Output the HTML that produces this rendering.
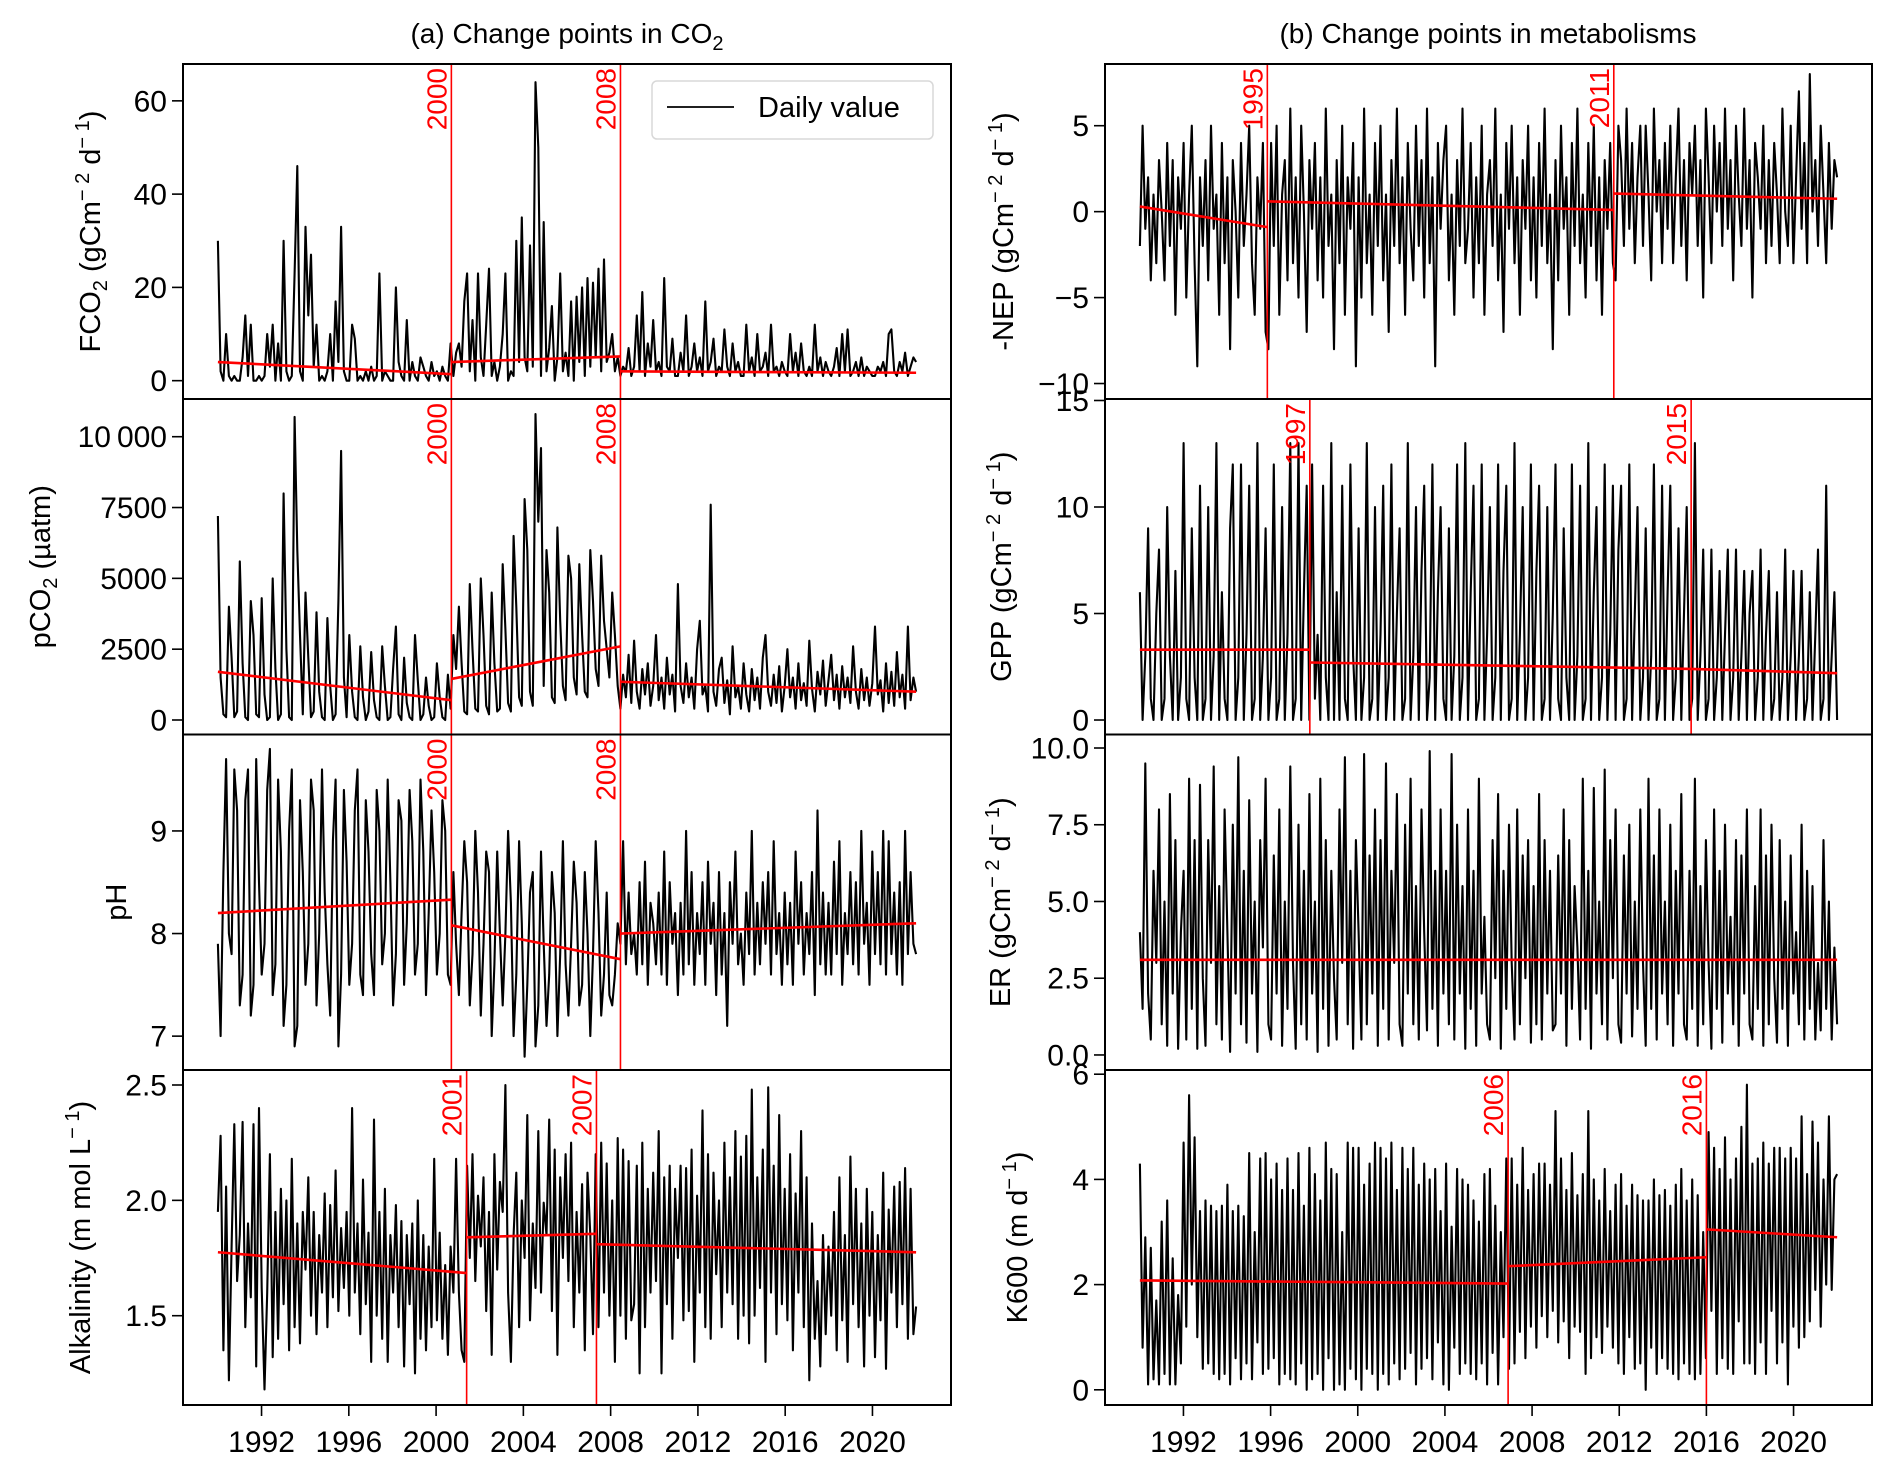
<!DOCTYPE html>
<html><head><meta charset="utf-8"><style>
html,body{margin:0;padding:0;background:#fff;}
svg{display:block;font-family:"Liberation Sans",Arial,sans-serif;}
</style></head><body>
<svg id="fig" width="1892" height="1472" viewBox="0 0 1892 1472">
<text x="567" y="43" font-size="28" text-anchor="middle">(a) Change points in CO<tspan font-size="20" dy="7">2</tspan></text>
<text x="1488" y="43" font-size="28" text-anchor="middle">(b) Change points in metabolisms</text>
</svg>
<script>
const startYear = 1990, endYear = 2022;
const xTicks = [1992,1996,2000,2004,2008,2012,2016,2020];
const xTickLabels = ["1992","1996","2000","2004","2008","2012","2016","2020"];

const fco2 = [30,2,0,10,1,0,1,0, 0,5,14,1,12,0,0,1, 0,1,10,3,12,0,8,0, 30,2,0,1,23,46,2,0, 33,14,27,3,12,0,1,0, 2,10,0,17,4,33,2,0, 0,12,9,0,1,0,2,0, 3,0,1,23,0,2,1,0, 0,20,4,1,0,13,0,4, 1,0,5,3,1,0,4,1, 2,0,3,1,0,8,1,6, 8,3,17,23,2,13,0,23, 5,1,12,24,1,4,0,3, 10,23,0,2,1,30,4,35, 5,2,29,3,64,50,1,34, 2,7,16,0,5,23,2,6, 1,17,0,18,4,20,1,22, 3,21,5,24,2,26,4,6, 10,2,5,1,3,2,7,1, 3,14,2,19,1,8,3,13, 2,4,1,22,3,2,9,1, 1,6,2,14,1,3,8,2, 5,1,17,2,4,9,1,3, 2,11,3,1,8,2,4,1, 1,12,2,5,1,10,2,3, 6,1,12,2,3,1,4,2, 1,10,2,6,1,8,2,1, 3,1,12,2,5,1,4,2, 1,3,7,1,10,2,11,1, 2,4,1,5,1,3,2,1, 1,3,2,4,1,10,11,2, 1,4,2,6,1,3,5,4];
const pco2 = [7200,1500,200,100,4000,2200,100,300, 5600,2000,100,0,4200,3000,200,100, 4300,900,0,100,5000,1800,0,200, 8000,2500,100,0,10700,6000,3000,200, 4500,2200,100,300,3800,1000,100,0, 3600,1200,0,200,4200,9500,1500,100, 3000,1000,100,0,2600,800,0,300, 2400,700,100,0,2600,1200,0,100, 1800,3300,200,0,2200,600,100,0, 3000,1400,0,200,1500,500,0,100, 2000,800,100,0,1600,400,3000,1800, 4000,2000,300,200,4800,2500,400,300, 5000,3000,500,200,4500,2000,300,400, 5500,3200,600,300,6500,4000,800,500, 7800,6000,1000,500,10800,7000,9600,1200, 6000,4500,800,600,6800,3500,1200,700, 5800,5000,1500,900,5500,3000,1000,800, 6000,4200,1800,1200,5800,3500,2500,1500, 4500,3000,1200,400,1600,800,2300,600, 2800,1000,400,1800,900,2000,500,1200, 3000,700,1500,400,2200,900,1600,300, 4800,1200,600,2000,800,1500,400,2500, 3500,900,1200,300,7600,1000,500,1800, 2200,600,1400,200,2600,800,1200,400, 2000,900,300,1800,700,1500,400,2200, 3000,1000,500,1600,600,1900,300,1200, 2500,800,1500,400,2000,700,1300,500, 2800,1100,300,1700,900,2100,500,1400, 2300,700,1600,400,1900,800,1500,600, 2600,1000,400,1800,700,1500,500,1300, 3300,900,1400,300,2000,600,1700,500, 2400,800,1600,400,3300,700,1500,1000];
const ph = [7.9,7.0,8.6,9.7,8.0,7.8,9.6,9.2, 7.3,7.6,9.3,9.6,7.2,7.5,9.7,8.5, 7.6,7.9,9.4,9.8,7.4,7.7,9.5,8.8, 7.1,7.5,9.0,9.6,6.9,7.1,9.3,8.6, 7.5,7.9,9.5,9.2,7.3,8.0,9.6,8.4, 7.7,7.2,8.9,9.5,6.9,7.6,9.4,8.7, 7.5,7.9,9.2,9.6,7.6,7.4,9.3,8.8, 7.8,7.4,9.4,9.0,7.7,8.0,9.5,8.5, 7.3,7.8,9.3,9.1,7.5,8.1,9.4,8.9, 7.6,7.9,9.5,8.8,7.4,8.2,9.2,8.6, 7.6,8.0,9.3,9.0,7.6,7.5,8.6,7.9, 7.4,8.2,8.9,8.5,7.3,7.8,9.0,8.4, 7.2,7.9,8.8,8.6,7.0,7.7,8.8,8.0, 7.3,8.0,9.0,8.3,7.0,7.6,8.9,8.1, 6.8,7.5,8.4,8.6,6.9,7.3,8.8,7.9, 7.1,7.6,8.6,8.2,7.0,7.8,8.9,7.7, 7.2,7.9,8.7,8.3,7.3,7.5,8.6,8.0, 7.0,7.8,8.9,8.2,7.2,7.6,8.4,7.4, 7.3,7.6,8.1,7.9,8.9,7.7,8.4,7.8, 8.0,7.6,8.5,7.7,8.7,7.5,8.3,8.1, 7.7,8.4,7.6,8.8,7.5,8.5,7.9,8.2, 7.4,8.3,7.6,9.0,7.7,8.6,7.5,8.2, 7.8,8.5,7.5,8.7,7.9,8.3,7.4,8.6, 7.6,8.2,7.1,8.5,7.9,8.8,7.7,8.0, 7.5,8.4,7.8,9.0,7.6,8.3,7.7,8.5, 7.9,8.6,7.6,8.9,7.8,8.2,7.5,8.4, 7.7,8.3,7.5,8.8,7.9,8.5,7.6,8.2, 7.8,8.6,7.4,9.2,7.7,8.4,7.6,8.3, 7.6,8.7,7.8,8.9,7.5,8.2,7.8,8.6, 7.7,8.5,7.6,9.0,7.9,8.3,7.5,8.8, 7.8,8.6,7.7,9.0,7.6,8.9,7.8,8.4, 7.6,8.5,7.5,9.0,7.8,8.6,7.9,7.8];
const alk = [1.95,2.28,1.35,2.06,1.22,1.80,2.33,1.65, 1.85,2.34,1.45,1.90,1.58,2.33,1.28,2.40, 1.62,1.18,1.60,2.20,1.32,1.95,1.40,2.05, 1.55,2.00,1.35,2.18,1.45,1.90,1.38,1.95, 1.70,2.10,1.50,1.95,1.42,1.85,1.60,2.03, 1.45,1.98,1.58,2.13,1.52,1.88,1.62,1.95, 1.50,2.40,1.60,1.90,1.42,2.09,1.55,1.86, 1.30,2.35,1.50,1.95,1.40,2.05,1.30,1.85, 1.60,1.98,1.45,1.91,1.28,1.85,1.55,1.90, 1.25,2.00,1.40,1.85,1.35,1.80,1.45,2.18, 1.48,1.86,1.40,1.72,1.33,1.80,1.60,2.18, 1.60,1.35,1.30,2.15,1.75,2.20,1.65,2.02, 1.80,2.10,1.52,1.95,1.33,2.20,1.70,2.08, 1.95,2.50,1.60,1.30,1.85,2.12,1.45,2.00, 1.75,2.37,1.48,1.90,1.62,2.30,1.60,1.99, 1.85,2.35,1.52,2.22,1.33,2.10,1.75,2.20, 1.65,2.25,1.45,1.95,1.60,2.07,1.35,2.12, 1.85,1.42,2.20,1.45,2.25,1.60,2.16,1.50, 2.00,1.30,2.27,1.50,2.22,1.40,2.17,1.48, 1.55,2.15,1.25,2.25,1.45,2.05,1.60,2.12, 1.65,2.30,1.25,2.10,1.55,2.15,1.40,2.05, 1.75,2.15,1.48,2.14,1.52,2.22,1.30,2.02, 1.60,2.39,1.45,2.20,1.40,2.12,1.68,2.00, 1.45,2.25,1.60,2.10,1.55,2.30,1.40,2.19, 1.50,2.28,1.38,2.48,1.50,2.10,1.62,2.22, 1.30,2.49,1.60,2.15,1.42,2.37,1.55,2.05, 1.48,2.20,1.35,2.03,1.60,2.30,1.45,2.10, 1.22,1.90,1.40,1.65,1.28,1.85,1.42,1.80, 1.50,1.95,1.35,2.10,1.48,1.85,1.30,2.19, 1.55,2.05,1.45,1.90,1.28,2.05,1.50,1.95, 1.32,1.85,1.48,2.12,1.27,1.96,1.60,2.06, 1.45,2.08,1.55,2.14,1.40,2.05,1.42,1.54];
const nep = [-2,5,-1,2,-4,1,-3,3, 0,-4,4,-2,3,-6,2,-1, 4,-5,1,5,-3,-9,2,-2, 3,-4,5,-1,1,-6,4,-3, 2,-8,3,0,-5,4,-2,1, 5,-3,-6,2,-1,4,-7,-8, 4,-2,5,-6,1,3,-4,6, -3,2,-5,5,0,-7,3,-1, 4,-4,2,-5,6,-2,1,-8, 3,-3,5,-6,2,-1,4,-9, 2,-5,6,-3,1,-6,4,-2, 5,-4,1,-7,3,-2,6,-3, 2,-6,4,-1,-4,5,-2,3, -5,6,-3,2,-9,4,-1,3, 5,-4,1,-6,3,-2,6,-3, -1,4,-5,2,-3,5,-6,1, 3,-2,6,-4,1,-7,4,-1, 5,-3,2,-6,3,-1,5,-4, 2,-5,4,-2,6,-3,1,-8, 3,-4,5,-1,2,-6,4,-2, 6,-3,1,-5,4,-2,5,-4, 2,-6,3,-1,4,-3,-4,5, 3,-2,6,-1,4,-3,2,5, -2,5,1,-4,6,0,3,-3, 4,-1,5,-3,2,6,-2,3, -4,4,1,5,-2,3,-5,6, 2,-3,5,0,4,-2,6,-1, 3,-4,5,1,-2,6,-1,3, -5,4,2,-1,5,-3,3,-2, 4,1,-3,6,0,-2,5,-3, 2,7,-1,4,-3,8,0,3, -2,5,1,-3,4,-1,3,2];
const gpp = [6,0,3,9,1,0,5,8, 0,1,10,3,0,7,0,2, 13,1,0,9,2,0,11,0, 1,10,0,3,13,0,6,1, 0,9,12,0,2,12,0,4, 11,0,1,13,0,3,9,0, 2,12,0,1,10,0,4,13, 0,1,13,0,6,11,0,12, 1,4,0,11,2,0,13,0, 6,0,11,1,0,12,3,0, 9,0,2,13,0,1,10,0, 4,11,0,2,12,0,5,9, 0,1,13,0,3,10,0,7, 11,0,2,12,0,6,10,1, 0,9,0,3,12,0,2,13, 0,6,11,0,1,12,0,4, 10,0,2,12,0,7,11,0, 1,13,0,4,10,0,2,12, 0,7,11,0,1,10,0,5, 12,1,0,9,2,0,12,0, 3,11,0,1,13,0,6,10, 0,2,12,0,4,11,0,8, 11,0,1,12,0,5,10,0, 2,9,0,3,12,0,1,11, 0,6,11,0,2,9,0,5, 10,0,1,13,0,3,8,0, 1,8,0,2,7,0,4,8, 0,2,8,0,3,7,0,5, 7,0,2,8,0,4,7,0, 1,6,0,2,8,0,3,7, 0,3,7,0,1,6,0,4, 8,0,1,11,0,3,6,0];
const er = [4,1.5,9.5,2,0.5,6,3,8, 1,5,0.3,8.5,2,7,0.2,4, 6,0.5,9,1.5,7,0.2,8.8,2.5, 0.3,7,3,9.4,1,5.5,0.5,8, 4,0.1,7.5,2,9.7,1,6,0.4, 8.3,2,5,0.1,7,3.5,9,1, 0.5,6.5,2,8,0.3,5,1.5,9.4, 3,0.2,7.5,1,6,0.5,8.5,2, 5,0.1,9,1.5,7,0.3,6,2.5, 0.5,8,3,9.7,1,6,0.2,7, 4,0.5,9.8,1,6.5,2,8,0.3, 7,1.5,9.5,0.5,6,3,8.5,1, 0.3,7.5,2,9,1,5.5,0.5,8, 4,0.8,9.9,1.5,6,0.3,8,2, 6,1,9.8,0.5,7.5,2,5.5,0.2, 8,1.5,6,0.3,9,2,4.5,1, 0.5,7,2.5,8.5,0.2,6,1.5,7.5, 3,0.5,8,1,6.5,2.5,7,0.4, 5.5,1,8.5,0.5,7,2,6,0.8, 1,6.5,2,8,0.3,7,1.5,5.5, 3.5,0.5,9,1.5,6,0.2,8.7,2, 5,1,9.3,0.5,7,2.5,8,1, 0.4,6.5,2,7.5,0.6,5,1.5,8, 3,0.3,9,1.5,6.5,0.5,8,2, 5,1,7.5,0.3,6,2,8.5,1, 0.5,6,1.5,9,0.3,5.5,1,7, 3,0.2,8,1.5,6,0.4,7.5,2, 4.5,1,7,0.3,6.5,2,8,1, 0.5,5.5,1.5,8,0.3,6.5,1,7.5, 2.5,0.4,7,1.5,5,0.3,6.5,2, 4,1,7.5,0.5,6,1.5,5.5,0.5, 3,0.8,7,1.5,5,0.5,3.5,1];
const k600 = [4.3,0.8,2.9,0.1,2.7,0.2,1.7,0.1, 3.2,0.3,3.6,0.1,2.5,0.1,1.8,0.5, 4.7,1.2,5.6,2.0,4.8,1.0,3.4,0.4, 3.6,0.5,3.5,0.3,3.4,0.2,3.5,0.3, 3.9,0.1,3.4,0.6,3.5,0.2,3.3,0.5, 4.5,0.2,3.0,0.9,4.4,0.3,4.5,0.4, 4.0,0.6,4.3,0.1,3.8,0.3,4.4,0.2, 3.8,0.1,4.5,0.5,3.5,0.0,4.6,0.2, 4.1,0.3,3.6,0.0,4.7,0.6,4.2,0.0, 4.1,0.1,3.0,0.0,4.7,0.4,4.6,0.2, 4.6,0.0,3.9,0.4,4.3,0.3,4.7,0.0, 4.6,0.3,4.4,0.1,4.7,0.5,3.8,0.2, 4.6,0.4,4.2,0.7,4.6,0.1,3.9,0.4, 4.3,0.6,4.0,0.2,4.2,0.9,3.4,0.1, 4.3,0.0,3.1,0.8,4.2,0.3,4.0,0.5, 3.9,0.3,3.6,0.2,3.2,0.5,4.1,0.1, 4.2,0.7,3.5,0.1,3.0,1.0,4.4,0.4, 4.4,0.5,3.9,1.1,4.6,0.6,3.8,1.2, 4.1,0.8,4.3,1.4,4.3,1.0,3.9,1.5, 5.3,0.9,4.4,1.3,3.8,0.6,4.5,1.2, 3.7,1.1,4.1,0.3,5.3,0.6,4.0,1.0, 3.6,0.7,4.2,1.2,3.4,0.8,3.9,0.5, 4.1,0.3,3.5,1.0,3.9,0.4,3.7,0.5, 3.6,0.0,3.6,0.8,4.0,0.3,3.7,0.6, 3.8,0.4,3.5,0.3,3.9,0.2,4.2,0.5, 3.6,0.3,4.0,0.2,3.7,0.3,3.0,0.6, 4.9,1.5,4.6,0.3,4.2,0.6,4.8,0.4, 4.0,0.3,4.4,1.3,5.0,0.5,5.8,0.5, 4.3,0.3,4.4,0.9,4.7,0.3,4.3,1.5, 4.6,0.5,4.6,0.9,4.4,0.1,4.6,1.2, 4.4,0.8,5.2,1.0,4.1,1.3,5.1,1.9, 4.7,1.2,4.0,2.0,5.2,1.9,4.0,4.1];

const fco2Breaks = [2000.7, 2008.45];
const fco2BreakLabels = ["2000","2008"];
const fco2Trend = [[1990,4.0,2000.7,1.4],[2000.7,4.0,2008.45,5.2],[2008.45,2.0,2022,1.7]];
const pco2Breaks = [2000.7, 2008.45];
const pco2BreakLabels = ["2000","2008"];
const pco2Trend = [[1990,1700,2000.7,700],[2000.7,1450,2008.45,2600],[2008.45,1350,2022,1000]];
const phBreaks = [2000.7, 2008.45];
const phBreakLabels = ["2000","2008"];
const phTrend = [[1990,8.2,2000.7,8.33],[2000.7,8.08,2008.45,7.75],[2008.45,8.0,2022,8.1]];
const alkBreaks = [2001.4, 2007.35];
const alkBreakLabels = ["2001","2007"];
const alkTrend = [[1990,1.775,2001.4,1.685],[2001.4,1.84,2007.35,1.855],[2007.35,1.81,2022,1.775]];
const nepBreaks = [1995.85, 2011.75];
const nepBreakLabels = ["1995","2011"];
const nepTrend = [[1990,0.3,1995.85,-0.9],[1995.85,0.6,2011.75,0.1],[2011.75,1.05,2022,0.75]];
const gppBreaks = [1997.8, 2015.3];
const gppBreakLabels = ["1997","2015"];
const gppTrend = [[1990,3.3,1997.8,3.3],[1997.8,2.7,2015.3,2.4],[2015.3,2.4,2022,2.2]];
const erBreaks = [];
const erBreakLabels = [];
const erTrend = [[1990,3.1,2022,3.1]];
const k600Breaks = [2006.9, 2016.0];
const k600BreakLabels = ["2006","2016"];
const k600Trend = [[1990,2.08,2006.9,2.02],[2006.9,2.35,2016.0,2.52],[2016.0,3.05,2022,2.9]];

const fco2Ticks=[0,20,40,60], fco2TickLabels=["0","20","40","60"];
const pco2Ticks=[0,2500,5000,7500,10000], pco2TickLabels=["0","2500","5000","7500","10\u2009000"];
const phTicks=[7,8,9], phTickLabels=["7","8","9"];
const alkTicks=[1.5,2.0,2.5], alkTickLabels=["1.5","2.0","2.5"];
const nepTicks=[-10,-5,0,5], nepTickLabels=["\u221210","\u22125","0","5"];
const gppTicks=[0,5,10,15], gppTickLabels=["0","5","10","15"];
const erTicks=[0,2.5,5,7.5,10], erTickLabels=["0.0","2.5","5.0","7.5","10.0"];
const k600Ticks=[0,2,4,6], k600TickLabels=["0","2","4","6"];

const NS="http://www.w3.org/2000/svg";
const svg=document.getElementById('fig');
function mk(tag, attrs, parent){const e=document.createElementNS(NS,tag);for(const k in attrs)e.setAttribute(k,attrs[k]);(parent||svg).appendChild(e);return e;}

const rowsY=[64,399,734.5,1070,1405];
const cols=[{x0:183,x1:951},{x0:1105,x1:1872}];
const xMin=1988.4, xMax=2023.6;

const panels=[
 {id:'fco2',col:0,row:0,data:fco2,ylim:[-3.93,67.9],ticks:fco2Ticks,tl:fco2TickLabels,br:fco2Breaks,brl:fco2BreakLabels,tr:fco2Trend,lx:90,label:'<tspan>FCO</tspan><tspan font-size="20" dy="7">2</tspan><tspan dy="-7"> (gCm</tspan><tspan font-size="20" dy="-11">\u2212 2</tspan><tspan dy="11"> d</tspan><tspan font-size="20" dy="-11">\u2212 1</tspan><tspan dy="11">)</tspan>'},
 {id:'pco2',col:0,row:1,data:pco2,ylim:[-512,11331],ticks:pco2Ticks,tl:pco2TickLabels,br:pco2Breaks,brl:pco2BreakLabels,tr:pco2Trend,lx:40,label:'<tspan>pCO</tspan><tspan font-size="20" dy="7">2</tspan><tspan dy="-7"> (\u00b5atm)</tspan>'},
 {id:'ph',col:0,row:2,data:ph,ylim:[6.67,9.94],ticks:phTicks,tl:phTickLabels,br:phBreaks,brl:phBreakLabels,tr:phTrend,lx:116,label:'pH'},
 {id:'alk',col:0,row:3,data:alk,ylim:[1.113,2.565],ticks:alkTicks,tl:alkTickLabels,br:alkBreaks,brl:alkBreakLabels,tr:alkTrend,lx:80,label:'<tspan>Alkalinity (m mol L</tspan><tspan font-size="20" dy="-11">\u2212 1</tspan><tspan dy="11">)</tspan>'},
 {id:'nep',col:1,row:0,data:nep,ylim:[-10.9,8.59],ticks:nepTicks,tl:nepTickLabels,br:nepBreaks,brl:nepBreakLabels,tr:nepTrend,lx:1003,label:'<tspan>-NEP (gCm</tspan><tspan font-size="20" dy="-11">\u2212 2</tspan><tspan dy="11"> d</tspan><tspan font-size="20" dy="-11">\u2212 1</tspan><tspan dy="11">)</tspan>'},
 {id:'gpp',col:1,row:1,data:gpp,ylim:[-0.68,15.07],ticks:gppTicks,tl:gppTickLabels,br:gppBreaks,brl:gppBreakLabels,tr:gppTrend,lx:1001,label:'<tspan>GPP (gCm</tspan><tspan font-size="20" dy="-11">\u2212 2</tspan><tspan dy="11"> d</tspan><tspan font-size="20" dy="-11">\u2212 1</tspan><tspan dy="11">)</tspan>'},
 {id:'er',col:1,row:2,data:er,ylim:[-0.49,10.44],ticks:erTicks,tl:erTickLabels,br:erBreaks,brl:erBreakLabels,tr:erTrend,lx:1000,label:'<tspan>ER (gCm</tspan><tspan font-size="20" dy="-11">\u2212 2</tspan><tspan dy="11"> d</tspan><tspan font-size="20" dy="-11">\u2212 1</tspan><tspan dy="11">)</tspan>'},
 {id:'k600',col:1,row:3,data:k600,ylim:[-0.289,6.08],ticks:k600Ticks,tl:k600TickLabels,br:k600Breaks,brl:k600BreakLabels,tr:k600Trend,lx:1017,label:'<tspan>K600 (m  d</tspan><tspan font-size="20" dy="-11">\u2212 1</tspan><tspan dy="11">)</tspan>'}
];

panels.forEach(p=>{
 const c=cols[p.col], y0=rowsY[p.row], y1=rowsY[p.row+1];
 const xs=v=>c.x0+(v-xMin)/(xMax-xMin)*(c.x1-c.x0);
 const ys=v=>y1-(v-p.ylim[0])/(p.ylim[1]-p.ylim[0])*(y1-y0);
 const g=mk('g',{});
 
 
 const cp=mk('clipPath',{id:'clip-'+p.id},g);
 mk('rect',{x:c.x0,y:y0,width:c.x1-c.x0,height:y1-y0},cp);
 const n=p.data.length;
 let d='';
 p.data.forEach((v,i)=>{const yr=startYear+i*(endYear-startYear)/(n-1);d+=(i?'L':'M')+xs(yr).toFixed(1)+' '+ys(v).toFixed(1);});
 const line=mk('path',{d:d,fill:'none',stroke:'#000','stroke-width':2.1,'stroke-linejoin':'round','clip-path':'url(#clip-'+p.id+')'},g);
 
 
 p.tr.forEach((s,i)=>{
  const l=mk('line',{x1:xs(s[0]),y1:ys(s[1]),x2:xs(s[2]),y2:ys(s[3]),stroke:'#ff0000','stroke-width':2.6},g);
  
  
 });
 p.br.forEach((b,i)=>{
  const bx=xs(b);
  const l=mk('line',{x1:bx,y1:y0,x2:bx,y2:y1,stroke:'#ff0000','stroke-width':1.6},g);
  
  
  const t=mk('text',{x:0,y:0,'font-size':28,fill:'#ff0000','text-anchor':'end',transform:'translate('+(bx-5)+','+(y0+4)+') rotate(-90)'},g);
  t.textContent=p.brl[i];
  
  
 });
 const fr=mk('rect',{x:c.x0,y:y0,width:c.x1-c.x0,height:y1-y0,fill:'none',stroke:'#000','stroke-width':2},g);
 
 
 p.ticks.forEach((tv,i)=>{
  const ty=ys(tv);
  mk('line',{x1:c.x0-11,y1:ty,x2:c.x0,y2:ty,stroke:'#000','stroke-width':1.6},g);
  const t=mk('text',{x:c.x0-16,y:ty+10.5,'font-size':30,'text-anchor':'end'},g);
  t.textContent=p.tl[i];
  
  
 });
 const cy=(y0+y1)/2;
 const lab=mk('text',{x:0,y:0,'font-size':29,'text-anchor':'middle',transform:'translate('+(p.lx+10)+','+cy+') rotate(-90)'},g);
 lab.innerHTML=p.label;
 
 
 if(p.row===3){
  xTicks.forEach((xv,i)=>{
   const tx=xs(xv);
   mk('line',{x1:tx,y1:y1,x2:tx,y2:y1+11,stroke:'#000','stroke-width':1.6},g);
   const t=mk('text',{x:tx,y:1452,'font-size':30,'text-anchor':'middle'},g);
   t.textContent=xTickLabels[i];
   
   
  });
 }
});

const lg=mk('g',{});


mk('rect',{x:652,y:81,width:281,height:58,rx:5,fill:'#fff',stroke:'#d8d8d8','stroke-width':1.5},lg);
const ls=mk('line',{x1:667,y1:107,x2:734,y2:107,stroke:'#000','stroke-width':1.8},lg);


const lt=mk('text',{x:758,y:117,'font-size':29},lg);
lt.textContent='Daily value';


</script>
</body></html>
